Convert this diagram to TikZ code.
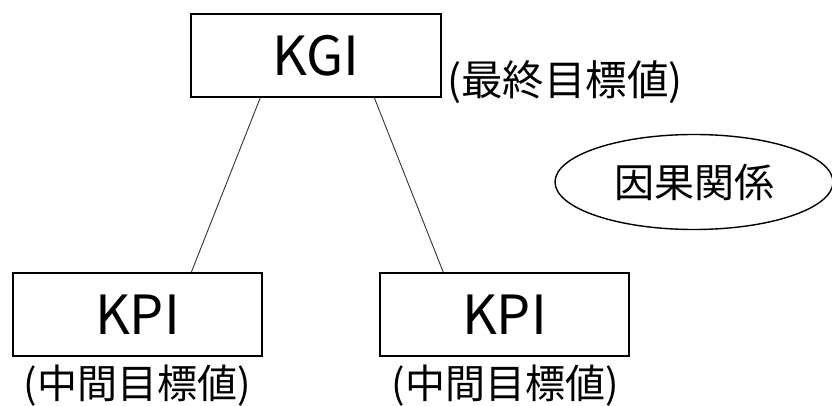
\documentclass[tikz,border=0pt]{standalone}
\usepackage{fontspec}
\setmainfont{Noto Sans CJK JP}
\usetikzlibrary{shapes.geometric}
\begin{document}
\begin{tikzpicture}[x=1pt,y=-1pt,
  box/.style={draw=black,line width=1.4pt,minimum width=249pt,minimum height=83pt,inner sep=0pt,font=\fontsize{54}{54}\selectfont},
  lbl/.style={inner sep=0pt,font=\fontsize{40}{40}\selectfont},
  link/.style={draw=black!80,line width=0.9pt}]
\useasboundingbox (0,0) rectangle (832,406);
\node[box,minimum width=250pt] (kgi) at (316,55.5) {KGI};
\node[box] (kpi1) at (137.5,314.5) {KPI};
\node[box] (kpi2) at (504.5,314.5) {KPI};
\node[lbl,font=\fontsize{41.5}{41.5}\selectfont] (goal) at (565,82) {(最終目標値)};
\node[lbl] (mid1) at (137,386) {(中間目標値)};
\node[lbl] (mid2) at (505,386) {(中間目標値)};
\node[draw=black,line width=1.4pt,ellipse,minimum width=278pt,minimum height=95pt,inner sep=0pt,font=\fontsize{40}{40}\selectfont] (cause) at (694,182) {因果関係};
\draw[link] ([xshift=70pt]kgi.south west) -- ([xshift=179pt]kpi1.north west);
\draw[link] ([xshift=184pt]kgi.south west) -- ([xshift=64pt]kpi2.north west);
\end{tikzpicture}
\end{document}
